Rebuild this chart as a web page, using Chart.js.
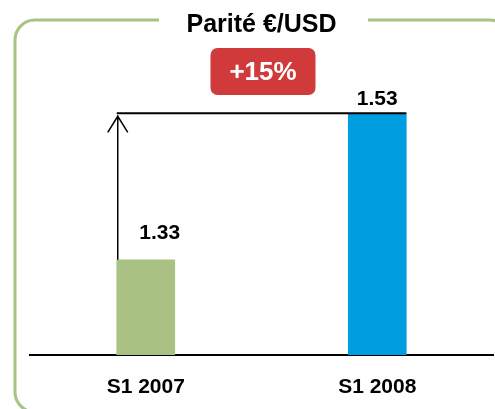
<!DOCTYPE html>
<html>
<head>
<meta charset="utf-8">
<script src="https://cdn.jsdelivr.net/npm/chart.js@4/dist/chart.umd.min.js"></script>
<style>
  html, body { margin: 0; padding: 0; background: #fff; }
  #wrap { width: 495px; height: 409px; }
</style>
</head>
<body>
<div id="wrap"><canvas id="myChart"></canvas></div>
<script>
var periods = ['S1 2007', 'S1 2008'];
var parity = [1.33, 1.53];
var barColors = ['#a9c284', '#009ee0'];
var changeLabel = '+15%';

var fontFamily = '"Liberation Sans", Arial, sans-serif';

// green frame with a gap for the title, red badge, arrow and value labels
var decorations = {
    id: 'decorations',
    beforeDraw: function (chart) {
        var c = chart.ctx;
        c.save();
        c.strokeStyle = '#a9c384';
        c.lineWidth = 3;
        var l = 15, t = 20, r = 510, b = 412, rad = 20;
        c.beginPath();
        c.moveTo(159, t);
        c.lineTo(l + rad, t);
        c.arcTo(l, t, l, t + rad, rad);
        c.lineTo(l, b - rad);
        c.arcTo(l, b, l + rad, b, rad);
        c.lineTo(r, b);
        c.stroke();
        c.beginPath();
        c.moveTo(368, t);
        c.lineTo(r - rad, t);
        c.arcTo(r, t, r, t + rad, rad);
        c.stroke();
        c.restore();
    },
    afterDatasetsDraw: function (chart) {
        var c = chart.ctx;
        var bars = chart.getDatasetMeta(0).data;
        var b1 = bars[0], b2 = bars[1];
        var x1 = b1.x - b1.width / 2 + 1;
        var x2 = b2.x + b2.width / 2;
        c.save();
        c.strokeStyle = '#000';
        c.lineWidth = 2;
        // horizontal line at the 2008 level
        c.beginPath();
        c.moveTo(x1 - 1, b2.y);
        c.lineTo(x2, b2.y);
        c.stroke();
        // arrow from 2007 top up to the 2008 level
        c.lineWidth = 1.5;
        c.beginPath();
        c.moveTo(x1, b1.y);
        c.lineTo(x1, b2.y + 2);
        c.moveTo(x1 - 10, b2.y + 19);
        c.lineTo(x1, b2.y + 3);
        c.lineTo(x1 + 10, b2.y + 19);
        c.stroke();

        // value labels
        c.fillStyle = '#000';
        c.font = 'bold 21px ' + fontFamily;
        c.textAlign = 'center';
        c.textBaseline = 'middle';
        c.fillText(parity[0].toFixed(2), b1.x + 14, b1.y - 27);
        c.fillText(parity[1].toFixed(2), b2.x, b2.y - 14);

        // red badge
        var area = chart.chartArea;
        var cx = (area.left + area.right) / 2 + 1.5;
        var bw = 105, bh = 47, by = 48;
        c.fillStyle = '#d03a3a';
        c.beginPath();
        c.roundRect(cx - bw / 2, by, bw, bh, 7);
        c.fill();
        c.fillStyle = '#fff';
        c.font = 'bold 26px ' + fontFamily;
        c.fillText(changeLabel, cx, by + bh / 2 + 1);
        c.restore();
    }
};

var ctx = document.getElementById('myChart').getContext('2d');
var myChart = new Chart(ctx, {
    type: 'bar',
    data: {
        labels: periods,
        datasets: [{
            data: parity,
            backgroundColor: barColors,
            barThickness: 58
        }]
    },
    options: {
        responsive: true,
        maintainAspectRatio: false,
        animation: false,
        layout: {
            padding: { left: 30, right: 2, top: 0, bottom: 0 }
        },
        plugins: {
            legend: { display: false },
            tooltip: { enabled: false },
            title: {
                display: true,
                text: 'Parité €/USD',
                color: '#000',
                font: { family: fontFamily, size: 25, weight: 'bold' },
                padding: { top: 10, bottom: 22 }
            }
        },
        scales: {
            x: {
                grid: { display: false, drawTicks: false },
                border: { display: true, color: '#000', width: 2 },
                ticks: {
                    color: '#000',
                    padding: 20,
                    font: { family: fontFamily, size: 21, weight: 'bold' }
                },
                afterFit: function (scale) {
                    scale.height = 54;
                }
            },
            y: {
                display: false,
                min: 1.2,
                max: 1.6
            }
        }
    },
    plugins: [decorations]
});
</script>
</body>
</html>
